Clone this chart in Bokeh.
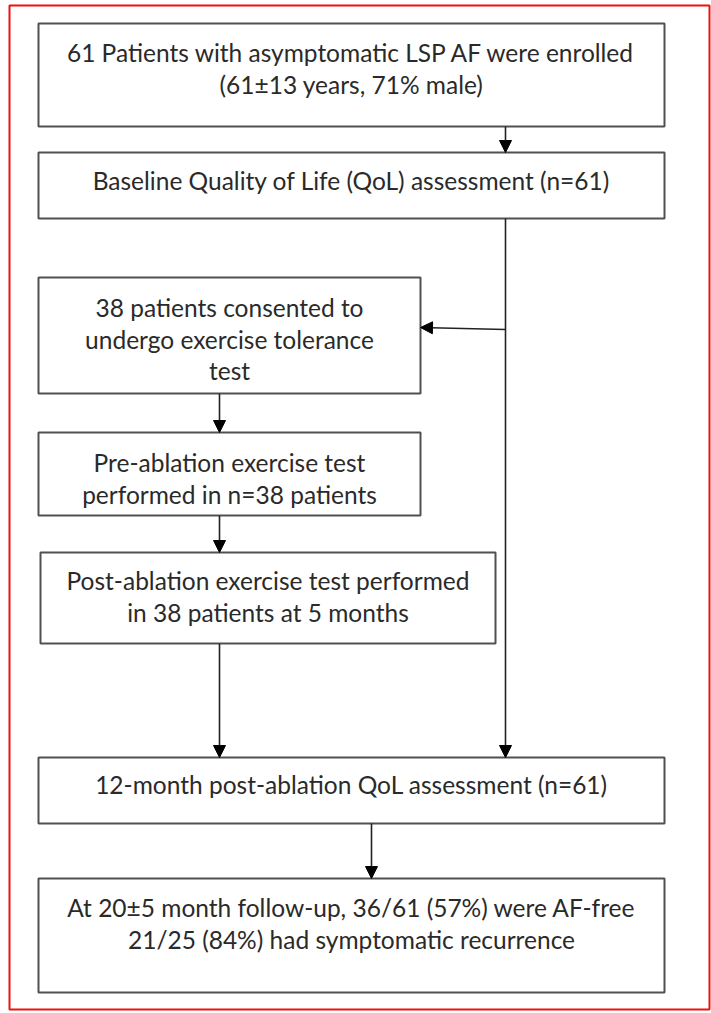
from bokeh.plotting import figure
from bokeh.models import Range1d, Arrow, NormalHead, ColumnDataSource
from bokeh.core.properties import value
from bokeh.embed import file_html
from bokeh.resources import INLINE

# ---- content (texts of the flowchart boxes) ----
box_lines = [
    ["61 Patients with asymptomatic LSP AF were enrolled", "(61\u00b113 years, 71% male)"],
    ["Baseline Quality of Life (QoL) assessment (n=61)"],
    ["38 patients consented to", "undergo exercise tolerance", "test"],
    ["Pre-ablation exercise test", "performed in n=38 patients"],
    ["Post-ablation exercise test performed", "in 38 patients at 5 months"],
    ["12-month post-ablation QoL assessment (n=61)"],
    ["At 20\u00b15 month follow-up, 36/61 (57%) were AF-free", "21/25 (84%) had symptomatic recurrence"],
]

# ---- layout (page pixel coordinates) ----
box_left = [38, 38, 38, 38, 40, 38, 38]
box_right = [664, 664, 420, 420, 495, 664, 664]
box_top = [23, 152, 277, 432, 552, 757, 878]
box_bottom = [126, 218, 393, 515, 643, 823, 992]
text_first_y = [52, 180, 307, 462, 580, 784, 907]
line_gap = 31.5

# arrows: (x_start, y_start, x_end, y_end)
arrows = [
    (505, 126, 505, 152),
    (505, 218, 505, 757),
    (505, 329, 420, 327),
    (219, 393, 219, 432),
    (219, 515, 219, 552),
    (219, 643, 219, 757),
    (371, 823, 371, 878),
]

W, H = 711, 1013
p = figure(width=W, height=H, output_backend="svg", toolbar_location=None,
           x_range=Range1d(0, W), y_range=Range1d(H, 0),
           min_border=0, background_fill_color="white", border_fill_color="white")
p.axis.visible = False
p.grid.visible = False
p.outline_line_color = None

# red frame
p.quad(left=[9], right=[709], top=[5], bottom=[1009], fill_color=None,
       line_color="#ee1111", line_width=2)

# boxes
p.quad(left=box_left, right=box_right, top=box_top, bottom=box_bottom,
       fill_color="white", line_color="#505050", line_width=2)

# arrows
for (x0, y0, x1, y1) in arrows:
    p.add_layout(Arrow(end=NormalHead(size=12, fill_color="black", line_color="black", line_width=1),
                       x_start=x0, y_start=y0, x_end=x1, y_end=y1,
                       line_color="#222222", line_width=1.6))

# texts
tx, ty, tt = [], [], []
for i, lines in enumerate(box_lines):
    cx = (box_left[i] + box_right[i]) / 2
    for j, ln in enumerate(lines):
        tx.append(cx)
        ty.append(text_first_y[i] + j * line_gap)
        tt.append(ln)
src = ColumnDataSource(dict(x=tx, y=ty, t=tt))
p.text(x="x", y="y", text="t", source=src, text_align="center", text_baseline="middle",
       text_font=value("Lato"), text_font_size="24.5px", text_color="#2a2a2a")

open("out.html", "w").write(file_html(p, INLINE))
